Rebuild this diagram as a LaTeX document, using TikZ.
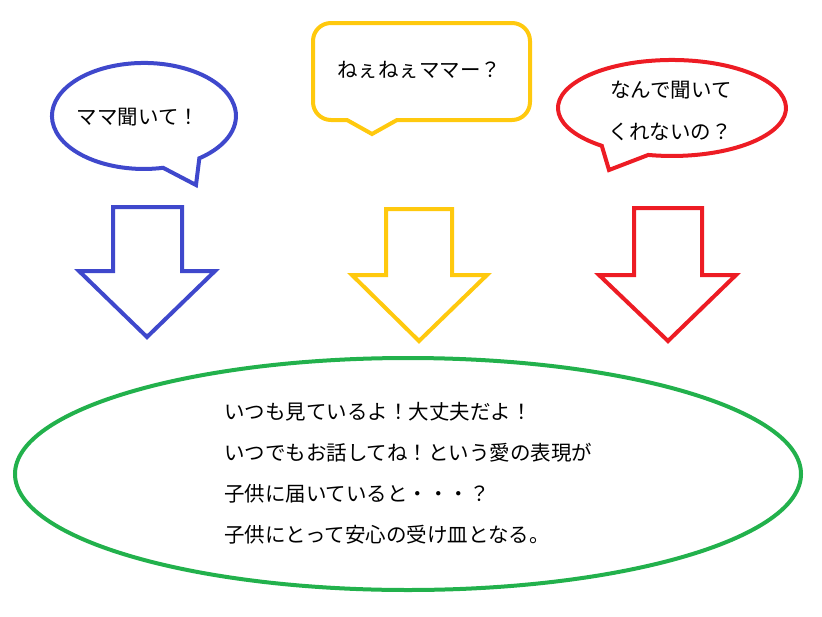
\documentclass[tikz,border=0pt]{standalone}
\usepackage{fontspec}
\usepackage{tikz}
\newfontfamily\jpfont{Noto Sans CJK JP}
\definecolor{momblue}{HTML}{3F48CC}
\definecolor{momyellow}{HTML}{FFC90E}
\definecolor{momred}{HTML}{ED1C24}
\definecolor{momgreen}{HTML}{22B14C}

\begin{document}
\begin{tikzpicture}[x=1pt, y=-1pt, line width=4pt,
    every node/.style={font=\jpfont\fontsize{20.5}{24}\selectfont, inner sep=0pt}]
      \useasboundingbox (0,0) rectangle (822,616);
      % speech bubbles
      \draw[momblue] (163.1,167.8) arc[start angle=78, end angle=413, x radius=92, y radius=53]
        -- (196,185) -- cycle;
      \draw[momyellow] (347,120) -- (331,120) arc[start angle=90, end angle=180, radius=18]
        -- (313,41) arc[start angle=180, end angle=270, radius=18]
        -- (512,23) arc[start angle=270, end angle=360, radius=18]
        -- (530,102) arc[start angle=0, end angle=90, radius=18]
        -- (397,120) -- (372,134) -- cycle;
      \draw[momred] (601.8,145.8) arc[start angle=128, end angle=462, x radius=114, y radius=48]
        -- (609,170) -- cycle;
      \node (callA) at (138,117) {ママ聞いて！};
      \node (callB) at (419,70) {ねぇねぇママー？};
      \node (callC) at (671,90) {なんで聞いて};
      \node (callD) at (670,132) {くれないの？};
      % arrows
      \draw[momblue] (113,207) -- (182,207) -- (182,271) -- (215,271) -- (147,337)
        -- (79,271) -- (113,271) -- cycle;
      \draw[momyellow] (386,209) -- (452,209) -- (452,275) -- (487,275) -- (419,341)
        -- (352,275) -- (386,275) -- cycle;
      \draw[momred] (634,208) -- (702,208) -- (702,275) -- (736,275) -- (668,341)
        -- (599,275) -- (634,275) -- cycle;
      % answer
      \draw[momgreen] (408,474) ellipse[x radius=393, y radius=116];
      \node (answer) [anchor=west, align=left, font=\jpfont\fontsize{20.5}{41}\selectfont] at (222,473.5)
        {いつも見ているよ！大丈夫だよ！\\いつでもお話してね！という愛の表現が\\子供に届いていると・・・？\\子供にとって安心の受け皿となる。};
    \end{tikzpicture}
\end{document}
